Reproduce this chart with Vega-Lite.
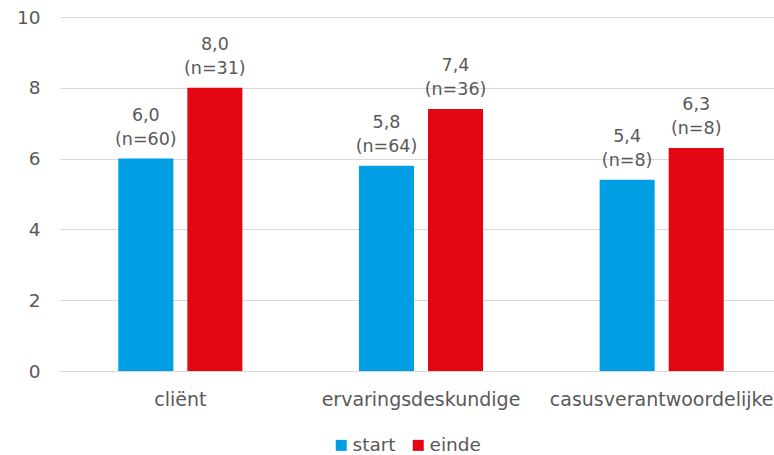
{
  "$schema": "https://vega.github.io/schema/vega-lite/v6.json",
  "width": 722,
  "height": 354,
  "autosize": "none",
  "padding": {"left": 60, "top": 17, "right": -8, "bottom": 84},
  "config": {
    "font": "DejaVu Sans",
    "view": {"stroke": null}
  },
  "data": {
    "values": [
      {"groep": "cliënt", "meting": "start", "score": 6.0, "waarde": "6,0", "n": "(n=60)"},
      {"groep": "cliënt", "meting": "einde", "score": 8.0, "waarde": "8,0", "n": "(n=31)"},
      {"groep": "ervaringsdeskundige", "meting": "start", "score": 5.8, "waarde": "5,8", "n": "(n=64)"},
      {"groep": "ervaringsdeskundige", "meting": "einde", "score": 7.4, "waarde": "7,4", "n": "(n=36)"},
      {"groep": "casusverantwoordelijke", "meting": "start", "score": 5.4, "waarde": "5,4", "n": "(n=8)"},
      {"groep": "casusverantwoordelijke", "meting": "einde", "score": 6.3, "waarde": "6,3", "n": "(n=8)"}
    ]
  },
  "encoding": {
    "x": {
      "field": "groep", "type": "nominal", "sort": null,
      "scale": {"paddingInner": 0, "paddingOuter": 0},
      "axis": {"title": null, "labelAngle": 0, "labelPadding": 19, "labelLimit": 500, "ticks": false, "domain": true, "domainColor": "#d9d9d9", "domainWidth": 1, "labelFontSize": 19, "labelColor": "#595959", "labelFontWeight": "normal"}
    },
    "xOffset": {
      "field": "meting", "type": "nominal", "sort": ["start", "einde"],
      "scale": {"paddingInner": 0.203, "paddingOuter": 0.844}
    },
    "y": {
      "field": "score", "type": "quantitative",
      "scale": {"domain": [0, 10]},
      "axis": {"title": null, "values": [0, 2, 4, 6, 8, 10], "grid": true, "gridColor": "#d9d9d9", "domain": false, "ticks": false, "labelPadding": 20, "labelOverlap": false, "labelFontSize": 18.5, "labelColor": "#595959"}
    }
  },
  "layer": [
    {
      "mark": {"type": "bar"},
      "encoding": {
        "color": {
          "field": "meting", "type": "nominal", "sort": ["start", "einde"],
          "scale": {"domain": ["start", "einde"], "range": ["#009FE3", "#E30613"]},
          "legend": {
            "title": null, "orient": "none", "legendX": 272, "legendY": 419, "direction": "horizontal",
            "symbolType": "square", "symbolSize": 121, "symbolStrokeWidth": 0, "labelFontSize": 18.5,
            "labelColor": "#595959", "labelOffset": 2, "columnPadding": 13
          }
        }
      }
    },
    {
      "mark": {"type": "text", "baseline": "alphabetic", "dy": -14, "fontSize": 17.5, "color": "#595959"},
      "encoding": {"text": {"field": "n"}}
    },
    {
      "mark": {"type": "text", "baseline": "alphabetic", "dy": -38, "fontSize": 17.5, "color": "#595959"},
      "encoding": {"text": {"field": "waarde"}}
    }
  ]
}
